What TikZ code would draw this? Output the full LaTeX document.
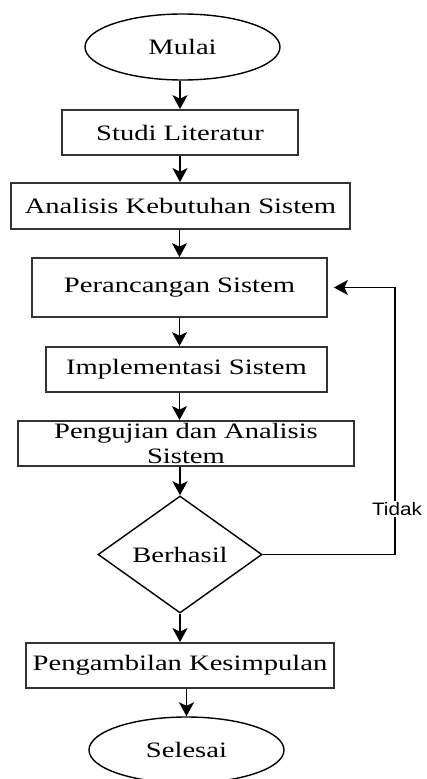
\documentclass[tikz,border=0pt]{standalone}
\usepackage{fontspec}
\newfontfamily\boxfont[FakeStretch=1.3]{Liberation Serif}
\newfontfamily\tidakfont[FakeStretch=1.15]{Liberation Sans}
\usetikzlibrary{arrows.meta, shapes.geometric}

\begin{document}
\begin{tikzpicture}[x = 1pt, y = -1pt]
\tikzstyle{TerminalStyle}=[shape = ellipse,
                           draw,
                           line width = 1.4pt,
                           minimum width = 195pt,
                           minimum height = 66pt,
                           inner sep = 0pt,
                           font = \boxfont\fontsize{22}{25}\selectfont]
\tikzstyle{ProsesStyle}=[shape = rectangle,
                         draw = black!80,
                         line width = 1.8pt,
                         inner sep = 0pt,
                         align = center,
                         font = \boxfont\fontsize{22}{25}\selectfont]
\tikzstyle{KeputusanStyle}=[shape = diamond,
                            draw,
                            aspect = 1.4,
                            line width = 1.4pt,
                            minimum width = 164pt,
                            minimum height = 117pt,
                            inner sep = 0pt,
                            font = \boxfont\fontsize{22}{25}\selectfont]
\tikzstyle{AlurStyle}=[draw,
                       line width = 1.6pt,
                       -{Stealth[length = 14pt, width = 15pt, inset = 3.5pt]}]
\useasboundingbox (0, 0) rectangle (427, 779);
\node[TerminalStyle] (mulai) at (182.5, 47) {Mulai};
\node[ProsesStyle, minimum width = 236pt, minimum height = 45pt] (studi) at (180, 132.5) {Studi Literatur};
\node[ProsesStyle, minimum width = 339pt, minimum height = 46pt] (analisis) at (180.5, 206) {Analisis Kebutuhan Sistem};
\node[ProsesStyle, minimum width = 295pt, minimum height = 59pt] (perancangan) at (179.5, 287.5) {Perancangan Sistem};
\node[ProsesStyle, minimum width = 281pt, minimum height = 45pt] (implementasi) at (186.5, 369.5) {Implementasi Sistem};
\node[ProsesStyle, minimum width = 336pt, minimum height = 45pt] (pengujian) at (186, 443.5) {Pengujian dan Analisis\\Sistem};
\node[KeputusanStyle] (hasil) at (180, 554.5) {Berhasil};
\node[ProsesStyle, minimum width = 308pt, minimum height = 45pt] (kesimpulan) at (180, 665.5) {Pengambilan Kesimpulan};
\node[TerminalStyle] (selesai) at (186.5, 750) {Selesai};
\coordinate (balik) at (395, 287.5);
\draw[AlurStyle] (studi.north |- mulai.south) -- (studi.north);
\draw[AlurStyle] (studi.south) -- (studi.south |- analisis.north);
\draw[AlurStyle] (analisis.south -| perancangan.north) -- (perancangan.north);
\draw[AlurStyle] (perancangan.south) -- (perancangan.south |- implementasi.north);
\draw[AlurStyle] (implementasi.south -| perancangan.south) -- (pengujian.north -| perancangan.south);
\draw[AlurStyle] (pengujian.south -| hasil.north) -- (hasil.north);
\draw[AlurStyle] (hasil.south) -- (hasil.south |- kesimpulan.north);
\draw[AlurStyle] (kesimpulan.south -| selesai.north) -- (selesai.north);
\draw[AlurStyle, shorten >= 6pt] (hasil.east) -| (balik) -- (perancangan.east);
\node[fill = white, inner sep = 1pt, font = \tidakfont\fontsize{18}{20}\selectfont] (tidak) at (397, 509) {Tidak};
\end{tikzpicture}
\end{document}
